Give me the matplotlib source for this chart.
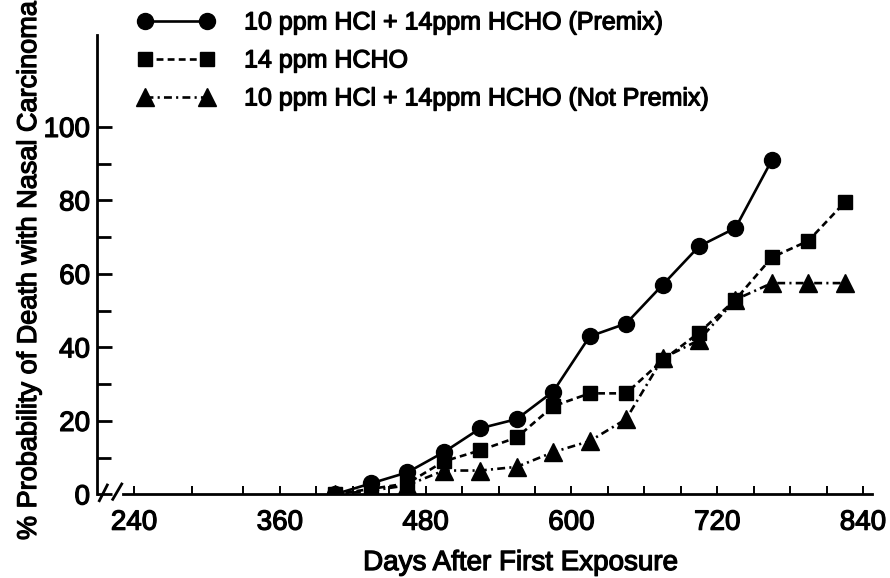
import numpy as np
import matplotlib
matplotlib.use("Agg")
import matplotlib.pyplot as plt
import matplotlib.patheffects as pe

# days after first exposure (30 day steps)
days = [405, 435, 465, 495, 525, 555, 585, 615, 645, 675, 705, 735, 765, 795, 825]

# % probability of death with nasal carcinoma
premix = [0, 3, 6, 11.5, 18, 20.5, 28, 43, 46.5, 57, 67.5, 72.5, 91]
hcho = [0, 1.5, 3, 9, 12, 15.5, 24, 27.5, 27.5, 36.5, 44, 53, 64.5, 69, 79.5]
not_premix = [0, 1, 2.5, 6.5, 6.5, 7.5, 11.5, 14.5, 20.5, 37, 42, 53, 57.5, 57.5, 57.5]

labels = ["10 ppm HCl + 14ppm HCHO (Premix)",
          "14 ppm HCHO",
          "10 ppm HCl + 14ppm HCHO (Not Premix)"]

x_major = [240, 360, 480, 600, 720, 840]
x_minor = [288] + list(range(330, 841, 30))
y_major = [0, 20, 40, 60, 80, 100]
y_minor = [10, 30, 50, 70, 90]

plt.rcParams['font.family'] = ['Liberation Sans', 'DejaVu Sans']
# thicken the glyphs a little, like the scanned lettering
heavy = [pe.withStroke(linewidth=0.9, foreground='black')]

fig = plt.figure(figsize=(8.9, 5.78), dpi=100)
ax = fig.add_axes([0.109, 0.1446, 0.8708, 0.7948])

lw = 1.9
ax.plot(days[:len(premix)], premix, color='black', lw=lw, ls='-',
        marker='o', ms=11.5, label=labels[0])
ax.plot(days, hcho, color='black', lw=lw, ls=(0, (2.6, 1.6)),
        marker='s', ms=10.5, label=labels[1])
ax.plot(days, not_premix, color='black', lw=lw, ls=(0, (3.0, 1.6, 0.8, 1.6)),
        marker='^', ms=12.5, label=labels[2])

ax.set_xlim(209.5, 847.4)
ax.set_ylim(0, 125)

ax.spines['top'].set_visible(False)
ax.spines['right'].set_visible(False)
ax.spines['left'].set_linewidth(2.0)
ax.spines['bottom'].set_linewidth(2.0)
ax.spines['bottom'].set_bounds(231, 847.4)

ax.set_xticks(x_major)
ax.set_xticks(x_minor, minor=True)
ax.set_yticks(y_major)
ax.set_yticks(y_minor, minor=True)
ax.set_xticklabels([str(v) for v in x_major])
ax.set_yticklabels([str(v) for v in y_major])

ax.tick_params(axis='x', which='both', direction='in', length=6, width=1.4,
               pad=11, labelsize=20)
ax.tick_params(axis='y', which='major', direction='in', length=11, width=2.0,
               pad=5, labelsize=20)
ax.tick_params(axis='y', which='minor', direction='in', length=10, width=2.0)
for t in ax.get_xticklabels() + ax.get_yticklabels():
    t.set_path_effects(heavy)

# axis break marks
ax.plot([0.003, 0.0133], [-0.0137, 0.0205], transform=ax.transAxes,
        color='black', lw=2.0, clip_on=False)
ax.plot([0.0203, 0.0319], [-0.0107, 0.0227], transform=ax.transAxes,
        color='black', lw=2.0, clip_on=False)

fig.text(0.408, 0.0138, "Days After First Exposure", fontsize=20,
         ha='left', va='baseline', path_effects=heavy)
fig.text(0.0326, 0.0657, "% Probability of Death with Nasal Carcinoma",
         rotation=90, ha='center', va='bottom', fontsize=19.5,
         path_effects=heavy)

leg = ax.legend(loc='upper left', bbox_to_anchor=(0.154, 0.982),
                bbox_transform=fig.transFigure, frameon=False, numpoints=2,
                borderpad=0, borderaxespad=0,
                handlelength=3.1, handletextpad=1.18, labelspacing=0.56,
                fontsize=18)
for t in leg.get_texts():
    t.set_path_effects(heavy)

fig.savefig("out.png", dpi=100)
